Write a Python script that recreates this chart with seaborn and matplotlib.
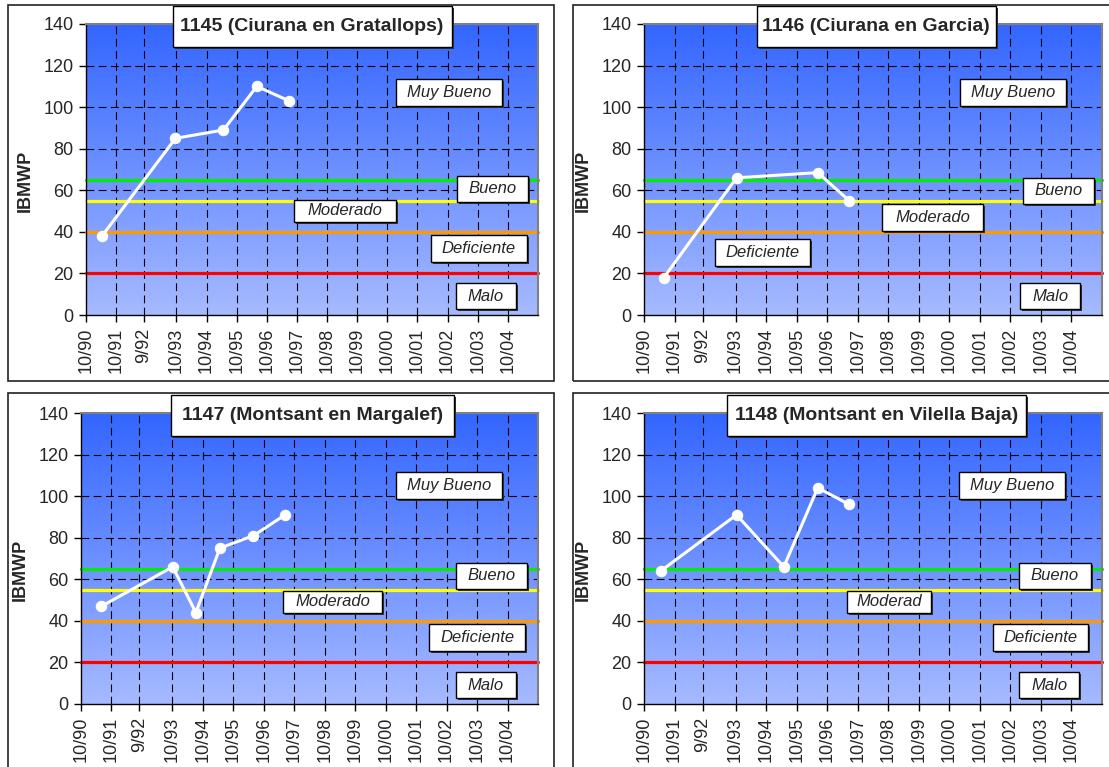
import numpy as np
import seaborn as sns
import matplotlib.pyplot as plt
from matplotlib.colors import LinearSegmentedColormap
from matplotlib.patches import Rectangle
from matplotlib import transforms

#%% data

tick_labels = ["10/90", "10/91", "9/92", "10/93", "10/94", "10/95", "10/96",
               "10/97", "10/98", "10/99", "10/00", "10/01", "10/02", "10/03", "10/04"]

titles = ["1145 (Ciurana en Gratallops)", "1146 (Ciurana en Garcia)",
          "1147 (Montsant en Margalef)", "1148 (Montsant en Vilella Baja)"]

# sampling dates as decimal years, IBMWP index values
dates_1145 = [1991.28, 1993.72, 1995.31, 1996.42, 1997.49]
ibmwp_1145 = [38, 85, 89, 110, 103]

dates_1146 = [1991.40, 1993.78, 1996.44, 1997.47]
ibmwp_1146 = [18, 66, 68.5, 55]

dates_1147 = [1991.42, 1993.76, 1994.52, 1995.31, 1996.41, 1997.45]
ibmwp_1147 = [47, 66, 44, 75, 81, 91]

dates_1148 = [1991.30, 1993.78, 1995.33, 1996.44, 1997.47]
ibmwp_1148 = [64, 91, 66, 104, 96]

# quality class thresholds
limits = [65, 55, 40, 20]
limit_colors = ["#00ee00", "#ffff00", "#ff9900", "#ff0000"]

class_names = ["Muy Bueno", "Bueno", "Moderado", "Deficiente", "Malo"]
class_names_1148 = ["Muy Bueno", "Bueno", "Moderad", "Deficiente", "Malo"]

#%% layout (pixels of a 1109x767 figure)

W, H = 1109, 767
axes_px = [(86, 24, 538, 315), (644, 24, 1102, 315),
           (81, 413, 538, 704), (644, 413, 1102, 704)]
frames_px = [(8, 5, 554, 381), (573, 5, 1125, 381),
             (8, 393, 554, 780), (573, 393, 1125, 780)]

# (cx, cy) in axes fraction and (w, h) in px for each class box
boxes = [
    [(0.803, 0.765, 106, 27), (0.900, 0.434, 71, 26), (0.573, 0.358, 102, 22),
     (0.869, 0.227, 96, 27), (0.885, 0.065, 60, 26)],
    [(0.806, 0.765, 106, 27), (0.905, 0.427, 71, 26), (0.631, 0.334, 101, 27),
     (0.259, 0.216, 95, 27), (0.887, 0.065, 60, 26)],
    [(0.805, 0.751, 106, 27), (0.899, 0.440, 71, 26), (0.551, 0.351, 99, 22),
     (0.867, 0.229, 96, 27), (0.886, 0.065, 60, 26)],
    [(0.804, 0.751, 106, 27), (0.897, 0.440, 72, 26), (0.536, 0.351, 84, 22),
     (0.865, 0.229, 95, 27), (0.885, 0.065, 60, 26)],
]
title_boxes = [(0.500, 0.992, 279, 41), (0.507, 0.992, 239, 41),
               (0.506, 0.992, 283, 41), (0.507, 0.992, 299, 41)]


def tick_pos(lbl):
    m, y = lbl.split("/")
    y = int(y)
    year = 1900 + y if y >= 50 else 2000 + y
    return year + (int(m) - 1) / 12


def draw_box(ax, text, cx, cy, w_px, h_px, **txt):
    bb = ax.get_position()
    w = w_px / (bb.width * W)
    h = h_px / (bb.height * H)
    shadow = transforms.offset_copy(ax.transAxes, fig=ax.figure, x=2, y=-2, units="dots")
    ax.add_patch(Rectangle((cx - w / 2, cy - h / 2), w, h, transform=shadow,
                           fc="#333333", ec="none", zorder=8, clip_on=False))
    ax.add_patch(Rectangle((cx - w / 2, cy - h / 2), w, h, transform=ax.transAxes,
                           fc="white", ec="black", lw=1, zorder=9, clip_on=False))
    ax.text(cx, cy, text, transform=ax.transAxes, ha="center", va="center",
            zorder=10, **txt)


#%% plot

sns.set_style("white")
plt.rcParams["font.family"] = ["Liberation Sans", "DejaVu Sans"]

fig = plt.figure(figsize=(W / 100, H / 100), dpi=100)

for fx0, fy0, fx1, fy1 in frames_px:
    fig.patches.append(Rectangle((fx0 / W, 1 - fy1 / H), (fx1 - fx0) / W, (fy1 - fy0) / H,
                                 transform=fig.transFigure, fill=False,
                                 ec="#222222", lw=1.2))

grad = LinearSegmentedColormap.from_list("excel", ["#a6baff", "#3366ff"])
xticks = [tick_pos(t) for t in tick_labels]
xlim = (1990.75, 2005.75)

series = [(dates_1145, ibmwp_1145, class_names),
          (dates_1146, ibmwp_1146, class_names),
          (dates_1147, ibmwp_1147, class_names),
          (dates_1148, ibmwp_1148, class_names_1148)]

for i, (dates, vals, names) in enumerate(series):
    x0, y0, x1, y1 = axes_px[i]
    ax = fig.add_axes([x0 / W, 1 - y1 / H, (x1 - x0) / W, (y1 - y0) / H])

    ax.imshow(np.linspace(0, 1, 256).reshape(-1, 1), cmap=grad, origin="lower",
              aspect="auto", extent=(xlim[0], xlim[1], 0, 140), zorder=0)

    for yv in range(20, 140, 20):
        ax.axhline(yv, color="black", lw=0.8, ls=(0, (7, 4)), zorder=1)
    for xv in xticks[1:]:
        ax.axvline(xv, color="black", lw=0.8, ls=(0, (7, 4)), zorder=1)

    for yv, c in zip(limits, limit_colors):
        ax.axhline(yv, color=c, lw=2.3, zorder=2, clip_on=False, snap=True)

    sns.lineplot(x=dates, y=vals, ax=ax, color="white", lw=2.2, marker="o",
                 markersize=7.5, markeredgecolor="white", zorder=5)

    ax.set_xlim(xlim)
    ax.set_ylim(0, 140)
    ax.set_yticks(range(0, 141, 20))
    ax.set_xticks(xticks)
    ax.set_xticklabels(tick_labels, rotation=90)
    ax.tick_params(axis="both", direction="out", length=5, width=1, color="black",
                   labelsize=13, pad=4, left=True, bottom=True)

    for s in ["left", "bottom"]:
        ax.spines[s].set_color("black")
        ax.spines[s].set_linewidth(1)
    for s in ["top", "right"]:
        ax.spines[s].set_color("#808080")
        ax.spines[s].set_linewidth(1.5)

    ax.set_ylabel("IBMWP", fontsize=13, fontweight="bold")
    ax.yaxis.set_label_coords(-0.115, 0.46)

    for name, (cx, cy, bw, bh) in zip(names, boxes[i]):
        draw_box(ax, name, cx, cy, bw, bh, fontsize=12, fontstyle="italic")

    tx, ty, tw, th = title_boxes[i]
    draw_box(ax, titles[i], tx, ty, tw, th, fontsize=14, fontweight="bold")

fig.savefig("out.png", dpi=100)
